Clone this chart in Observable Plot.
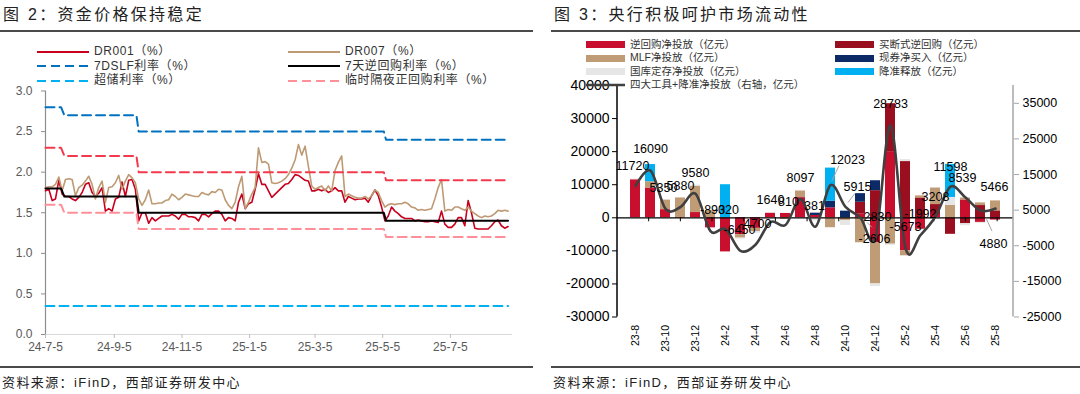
<!DOCTYPE html>
<html><head><meta charset="utf-8">
<script src="https://cdn.jsdelivr.net/npm/d3@7"></script>
<script src="https://cdn.jsdelivr.net/npm/@observablehq/plot@0.6"></script>
<style>
html,body{margin:0;padding:0;background:#fff;}
#root{position:relative;width:1080px;height:394px;overflow:hidden;font-family:"Liberation Sans","Noto Sans CJK SC",sans-serif;}
.abs{position:absolute;white-space:nowrap;}
.title{font-size:16px;letter-spacing:2.3px;color:#222;line-height:20px;}
.rule{height:1.5px;background:#4a4a4a;}
.src{font-size:13px;letter-spacing:1.4px;color:#222;line-height:18px;}
.leg{line-height:14px;transform:translateY(-50%);}
</style></head><body>
<div id="root"></div>
<script>
// ---------------- 图2 data ----------------
const dates = [
"2024-07-05","2024-07-08","2024-07-11","2024-07-14","2024-07-17","2024-07-20","2024-07-23","2024-07-26","2024-07-29",
"2024-08-01","2024-08-04","2024-08-07","2024-08-10","2024-08-13","2024-08-16","2024-08-19","2024-08-22","2024-08-25","2024-08-28","2024-08-31",
"2024-09-03","2024-09-06","2024-09-09","2024-09-12","2024-09-15","2024-09-18","2024-09-21","2024-09-24","2024-09-27","2024-09-30",
"2024-10-03","2024-10-06","2024-10-09","2024-10-12","2024-10-15","2024-10-18","2024-10-21","2024-10-24","2024-10-27","2024-10-30",
"2024-11-02","2024-11-05","2024-11-08","2024-11-11","2024-11-14","2024-11-17","2024-11-20","2024-11-23","2024-11-26","2024-11-29",
"2024-12-02","2024-12-05","2024-12-08","2024-12-11","2024-12-14","2024-12-17","2024-12-20","2024-12-23","2024-12-26","2024-12-29",
"2025-01-01","2025-01-04","2025-01-07","2025-01-10","2025-01-13","2025-01-16","2025-01-19","2025-01-22","2025-01-25","2025-01-28","2025-01-31",
"2025-02-03","2025-02-06","2025-02-09","2025-02-12","2025-02-15","2025-02-18","2025-02-21","2025-02-24","2025-02-27",
"2025-03-02","2025-03-05","2025-03-08","2025-03-11","2025-03-14","2025-03-17","2025-03-20","2025-03-23","2025-03-26","2025-03-29",
"2025-04-01","2025-04-04","2025-04-07","2025-04-10","2025-04-13","2025-04-16","2025-04-19","2025-04-22","2025-04-25","2025-04-28",
"2025-05-01","2025-05-04","2025-05-07","2025-05-10","2025-05-13","2025-05-16","2025-05-19","2025-05-22","2025-05-25","2025-05-28","2025-05-31",
"2025-06-03","2025-06-06","2025-06-09","2025-06-12","2025-06-15","2025-06-18","2025-06-21","2025-06-24","2025-06-27","2025-06-30",
"2025-07-03","2025-07-06","2025-07-09","2025-07-12","2025-07-15","2025-07-18","2025-07-21","2025-07-24","2025-07-27","2025-07-30",
"2025-08-02","2025-08-05","2025-08-08","2025-08-11","2025-08-14","2025-08-17","2025-08-20","2025-08-23","2025-08-26"];
const dr001 = [
1.77,1.79,1.65,1.67,1.90,1.73,1.70,1.70,1.67,1.65,
1.69,1.75,1.85,1.87,1.75,1.70,1.74,1.81,1.52,1.55,
1.52,1.67,1.69,1.88,1.70,1.90,1.91,1.79,1.40,1.50,
1.50,1.37,1.44,1.40,1.43,1.46,1.46,1.46,1.48,1.46,
1.42,1.48,1.48,1.45,1.45,1.44,1.40,1.48,1.48,1.45,
1.49,1.52,1.52,1.48,1.40,1.44,1.43,1.40,1.63,1.73,
1.55,1.61,1.63,1.79,1.98,1.85,1.85,1.77,
1.69,1.73,1.77,1.81,1.85,1.86,1.91,1.97,1.96,1.93,
1.90,1.89,1.77,1.77,1.79,1.77,1.79,1.75,1.77,1.81,
1.77,1.77,1.63,1.70,1.68,1.66,1.67,1.67,1.68,1.63,
1.71,1.78,1.71,1.57,1.40,1.46,1.57,1.52,1.49,1.45,
1.43,1.43,1.43,1.40,1.41,1.40,1.39,1.39,1.40,1.39,
1.38,1.52,1.36,1.32,1.32,1.36,1.44,1.44,1.34,1.65,
1.50,1.31,1.30,1.30,1.30,1.30,1.34,1.39,1.41,1.34,
1.31,1.33];
const dr007 = [
1.81,1.82,1.82,1.85,1.94,1.77,1.91,1.92,1.91,1.71,
1.81,1.84,1.89,1.95,1.85,1.67,1.81,1.89,1.63,1.81,
1.82,1.87,1.96,1.79,1.89,1.97,1.93,1.87,1.67,1.59,
1.66,1.78,1.61,1.61,1.62,1.62,1.65,1.66,1.73,1.70,
1.66,1.69,1.73,1.72,1.71,1.70,1.70,1.75,1.73,1.72,
1.76,1.75,1.79,1.78,1.66,1.59,1.55,1.63,1.82,1.95,
1.55,1.63,1.73,1.81,2.30,2.12,2.13,2.10,
1.87,1.86,1.87,1.89,1.92,1.97,2.05,2.15,2.34,2.21,
2.32,2.07,1.83,1.79,1.81,1.83,1.77,1.83,1.77,2.02,
2.12,2.20,1.70,1.73,1.71,1.69,1.68,1.68,1.70,1.67,
1.71,1.78,1.75,1.65,1.57,1.60,1.61,1.60,1.61,1.61,
1.63,1.61,1.57,1.56,1.53,1.54,1.53,1.54,1.55,1.67,
1.81,1.91,1.52,1.54,1.53,1.57,1.57,1.55,1.53,1.57,
1.52,1.49,1.46,1.44,1.46,1.45,1.46,1.49,1.53,1.52,
1.53,1.52];
const policyDates = ["2024-07-05","2024-07-19","2024-07-22","2024-09-25","2024-09-27","2025-05-06","2025-05-08","2025-08-26"];
const rr7   = [1.8,1.8,1.7,1.7,1.5,1.5,1.4,1.4];
const slf7  = [2.8,2.8,2.7,2.7,2.5,2.5,2.4,2.4];
const onRev = [2.3,2.3,2.2,2.2,2.0,2.0,1.9,1.9];
const onRepo= [1.6,1.6,1.5,1.5,1.3,1.3,1.2,1.2];
const excess= [0.35,0.35,0.35,0.35,0.35,0.35,0.35,0.35];
const leftXTicks = ["2024-07-05","2024-09-05","2024-11-05","2025-01-05","2025-03-05","2025-05-05","2025-07-05"];
const leftYTicks = [0,0.5,1,1.5,2,2.5,3];

// ---------------- 图3 data ----------------
const months = ["23-8","23-9","23-10","23-11","23-12","24-1","24-2","24-3","24-4","24-5","24-6","24-7","24-8","24-9","24-10","24-11","24-12","25-1","25-2","25-3","25-4","25-5","25-6","25-7","25-8"];
const reverseRepo  = [11500,9000,2460,-120,1580,-3050,-10320,-5100,-3200,1400,1310,6097,700,3023,0,1100,-7500,20000,-10000,-3500,1000,0,5400,-1400,-700];
const outrightRepo = [0,0,0,0,0,0,0,0,0,0,0,0,0,0,0,3600,8200,14500,17000,6000,3000,-5000,-1800,3700,2100];
const mlfNet       = [0,1910,2890,6000,8000,2160,0,-1050,-1000,0,-500,2000,0,-3000,-800,-7500,-12500,-8000,-1500,630,5000,3750,600,800,3000];
const bondBuy      = [0,0,0,0,0,0,0,0,0,0,0,0,700,2000,2000,2600,3000,0,0,0,0,0,0,0,0];
const treasuryDep  = [220,0,0,0,300,0,0,-300,-500,240,0,0,-1019,0,-1500,-300,-800,-300,600,-300,-500,2400,-600,-300,0];
const rrrRelease   = [0,5180,0,0,0,0,10000,0,0,0,0,0,0,10000,0,0,0,0,0,0,0,10000,0,0,0];
const totalNet     = [11720,16090,5350,5880,9580,-890,-320,-6450,-4700,1640,810,8097,381,12023,5915,2830,-2606,28783,-5673,-1992,3208,11598,8539,4880,5466];
const rightYTicksL = [-30000,-20000,-10000,0,10000,20000,30000,40000];
const rightYTicksR = [-25000,-15000,-5000,5000,15000,25000,35000];
const seriesNames = ["逆回购净投放（亿元）","买断式逆回购（亿元）","MLF净投放（亿元）","现券净买入（亿元）","国库定存净投放（亿元）","降准释放（亿元）"];
const lineName = "四大工具+降准净投放（右轴，亿元）";

// ---------------- styles ----------------
const FONT = '"Liberation Sans","Noto Sans CJK SC",sans-serif';
const C = {dr001:"#C8001E", dr007:"#BE9A74", slf:"#0070C0", rr7:"#000000", excess:"#00B0F0", onRev:"#F23A4C", onRepo:"#FF8F98"};
const barColors = ["#C8102E","#9A0F1F","#BF9B76","#0B2A66","#E6E6E6","#00B0F0"];
const lineColor = "#404040";
const DASH = "9,5";

const root = document.getElementById("root");
function div(cls, x, y, html, extra) {
  const d = document.createElement("div");
  d.className = "abs " + cls;
  d.style.left = x + "px"; d.style.top = y + "px";
  if (extra) Object.assign(d.style, extra);
  d.innerHTML = html;
  root.appendChild(d);
  return d;
}

// ---------------- 图2 plot ----------------
const P = s => new Date(s);
const daily = dates.map((d, i) => ({date: P(d), dr001: dr001[i], dr007: dr007[i]}));
const pol = policyDates.map((d, i) => ({date: P(d), rr7: rr7[i], slf7: slf7[i], up: onRev[i], dn: onRepo[i], er: excess[i]}));
const fmtDate = d => `${d.getUTCFullYear() % 100}-${d.getUTCMonth() + 1}-${d.getUTCDate()}`;

const left = Plot.plot({
  width: 530, height: 394,
  marginLeft: 45, marginRight: 18, marginTop: 90.5, marginBottom: 60,
  style: {fontFamily: FONT, fontSize: "12px", color: "#595959", background: "transparent", overflow: "visible"},
  x: {type: "utc", domain: [P("2024-07-05"), P("2025-08-30")]},
  y: {domain: [0, 3]},
  marks: [
    Plot.ruleY([0], {stroke: "#D9D9D9", strokeWidth: 1.2}),
    Plot.ruleX([P("2024-07-05")], {stroke: "#8C8C8C", strokeWidth: 1.2}),
    Plot.axisY({ticks: leftYTicks, tickFormat: d3.format(".1f"), tickSize: 4, tickPadding: 9, label: null, stroke: "#8C8C8C", fill: "#595959"}),
    Plot.axisX({ticks: leftXTicks.map(P), tickFormat: fmtDate, tickSize: 4, tickPadding: 4, label: null, stroke: "#BFBFBF", fill: "#595959"}),
    Plot.line(daily, {x: "date", y: "dr001", stroke: C.dr001, strokeWidth: 1.6}),
    Plot.line(daily, {x: "date", y: "dr007", stroke: C.dr007, strokeWidth: 1.6}),
    Plot.line(pol, {x: "date", y: "slf7", stroke: C.slf, strokeWidth: 2, strokeDasharray: DASH}),
    Plot.line(pol, {x: "date", y: "rr7", stroke: C.rr7, strokeWidth: 2}),
    Plot.line(pol, {x: "date", y: "er", stroke: C.excess, strokeWidth: 2, strokeDasharray: DASH}),
    Plot.line(pol, {x: "date", y: "dn", stroke: C.onRepo, strokeWidth: 2, strokeDasharray: DASH}),
    Plot.line(pol, {x: "date", y: "up", stroke: C.onRev, strokeWidth: 2, strokeDasharray: DASH})
  ]
});
left.style.position = "absolute"; left.style.left = "0px"; left.style.top = "0px";
root.appendChild(left);

// ---------------- 图3 plot ----------------
const yR = d3.scaleLinear([-25000, 40000], [-30000, 40000]);
const seriesVals = [reverseRepo, outrightRepo, mlfNet, bondBuy, treasuryDep, rrrRelease];
const rows = seriesVals.flatMap((vals, s) => vals.map((v, i) => ({month: months[i], series: seriesNames[s], value: v})));
const lineData = months.map((m, i) => ({month: m, v: yR(totalNet[i]), label: String(totalNet[i])}));
// per-label pixel offsets (style, not data)
const labelOffsets = [[-3,-20],[0,-22],[-2,-21],[0,-21],[0,-21],[2,-21],[1,-19],[-1,-21],[0,-21],[0,-22],[3,-23],[0,-21],[-1,-21],
  [17,-25],[12,-20],[17,-1],[-1,2],[0,-21],[0,-21],[0,-21],[0,-20],[0,-20],[-3,-20],[13,33],[-1,-21]];
const leaders = [[13,[2,-4],[9,-19]],[14,[3,-4],[10,-13]],[15,[7,5],[12,10]],[23,[6,8],[12,21]]];

function frameMark(index, scales, values, dims) {
  const g = d3.create("svg:g");
  const x0 = dims.marginLeft, x1 = dims.width - dims.marginRight;
  const yt = dims.marginTop, yb = dims.height - dims.marginBottom;
  g.append("line").attr("x1", x0).attr("x2", x0).attr("y1", yt).attr("y2", yb).attr("stroke", "#000").attr("stroke-width", 1.5);
  g.append("line").attr("x1", x1).attr("x2", x1).attr("y1", yt).attr("y2", yb).attr("stroke", "#A6A6A6").attr("stroke-width", 1.5);
  const y0 = scales.y(0);
  const step = (x1 - x0) / months.length;
  for (let k = 2; k < months.length; k += 2) {
    const xx = x0 + k * step;
    g.append("line").attr("x1", xx).attr("x2", xx).attr("y1", y0).attr("y2", y0 + 4).attr("stroke", "#000").attr("stroke-width", 1);
  }
  return g.node();
}
function leaderMark(index, scales) {
  const g = d3.create("svg:g");
  const bw = scales.x.bandwidth ? scales.x.bandwidth() / 2 : 0;
  for (const [i, a, b] of leaders) {
    const px = scales.x(months[i]) + bw, py = scales.y(yR(totalNet[i]));
    g.append("line").attr("x1", px + a[0]).attr("y1", py + a[1]).attr("x2", px + b[0]).attr("y2", py + b[1])
      .attr("stroke", "#A6A6A6").attr("stroke-width", 1);
  }
  return g.node();
}

const right = Plot.plot({
  width: 535, height: 394,
  marginLeft: 72, marginRight: 67, marginTop: 85, marginBottom: 77.5,
  style: {fontFamily: FONT, fontSize: "12.5px", color: "#000", background: "transparent", overflow: "visible"},
  x: {type: "band", domain: months, paddingInner: 0.32, paddingOuter: 0.16},
  y: {domain: [-30000, 40000]},
  color: {domain: seriesNames, range: barColors},
  marks: [
    Plot.barY(rows, Plot.stackY({x: "month", y: "value", fill: "series", order: seriesNames})),
    Plot.ruleY([0], {stroke: "#000", strokeWidth: 1.3}),
    frameMark,
    Plot.axisY({anchor: "left", ticks: rightYTicksL, tickFormat: d => String(d), tickSize: 5, tickPadding: 3, label: null, stroke: "#000", fill: "#000", fontSize: 14}),
    Plot.axisY({anchor: "right", ticks: rightYTicksR.map(yR), tickFormat: d => String(Math.round(yR.invert(d))), tickSize: 5, tickPadding: 4, label: null, stroke: "#A6A6A6", fill: "#000", fontSize: 12.5}),
    Plot.axisX({ticks: months.filter((d, i) => i % 2 === 0), tickRotate: -90, tickSize: 0, tickPadding: 8, label: null, fill: "#000", fontSize: 10.5}),
    Plot.line(lineData, {x: "month", y: "v", curve: "cardinal", stroke: lineColor, strokeWidth: 2.6}),
    leaderMark,
    ...lineData.map((d, i) => Plot.text([d], {x: "month", y: "v", text: "label", dx: labelOffsets[i][0], dy: labelOffsets[i][1], fontSize: 12.5, fill: "#000"}))
  ]
});
right.style.position = "absolute"; right.style.left = "545px"; right.style.top = "0px";
root.appendChild(right);

// ---------------- titles, rules, sources ----------------
div("title", 3, 4.5, "图 2：资金价格保持稳定");
div("title", 554, 4.5, "图 3：央行积极呵护市场流动性");
div("rule", 0, 30, "", {width: "533px"});
div("rule", 551, 30, "", {width: "529px"});
div("rule", 0, 366, "", {width: "533px"});
div("rule", 551, 366, "", {width: "529px"});
div("src", 2, 374, "资料来源：iFinD，西部证券研发中心");
div("src", 553, 374, "资料来源：iFinD，西部证券研发中心");

// ---------------- legends ----------------
function lineSwatch(w, color, dash, sw) {
  return `<svg width="${w}" height="8" style="vertical-align:middle;margin-right:5px"><line x1="0" x2="${w}" y1="4" y2="4" stroke="${color}" stroke-width="${sw}" ${dash ? `stroke-dasharray="${dash}"` : ""}/></svg>`;
}
function rectSwatch(w, color) {
  return `<svg width="${w}" height="7" style="vertical-align:middle;margin-right:5px"><rect x="0" y="0" width="${w}" height="7" fill="${color}"/></svg>`;
}
const leftLegend = [
  [37, 51, C.dr001, null, "DR001（%）"], [288, 51, C.dr007, null, "DR007（%）"],
  [37, 65.5, C.slf, DASH, "7DSLF利率（%）"], [288, 65.5, C.rr7, null, "7天逆回购利率（%）"],
  [37, 80, C.excess, DASH, "超储利率（%）"], [288, 80, C.onRepo, DASH, "临时隔夜正回购利率（%）"]
];
for (const [x, y, c, dash, t] of leftLegend)
  div("leg", x, y, lineSwatch(52, c, dash, 2) + `<span>${t}</span>`, {fontSize: "12px", color: "#333", letterSpacing: "0.6px"});
const rightLegendPos = [[586, 43.5], [835, 43.5], [586, 57], [835, 57], [586, 70.5], [835, 70.5]];
seriesNames.forEach((n, i) => {
  const [x, y] = rightLegendPos[i];
  div("leg", x, y, rectSwatch(39, barColors[i]) + `<span>${n}</span>`, {fontSize: "10.5px", color: "#333"});
});
div("leg", 586, 83.5, lineSwatch(39, lineColor, null, 2.5) + `<span>${lineName}</span>`, {fontSize: "10.5px", color: "#333"});
</script>
</body></html>
